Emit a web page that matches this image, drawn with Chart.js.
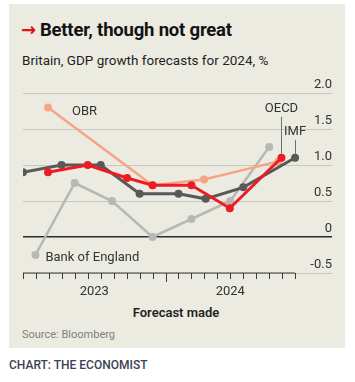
<!DOCTYPE html>
<html>
<head>
<meta charset="utf-8">
<script src="https://cdn.jsdelivr.net/npm/chart.js@4.4.1/dist/chart.umd.min.js"></script>
<style>
  html, body { margin: 0; padding: 0; background: #fff; width: 355px; height: 382px; overflow: hidden; font-family: Roboto, "Liberation Sans", sans-serif; }
  #panel { position: absolute; left: 9px; top: 4px; width: 336px; height: 344px; background: #ECEBE1; }
  .t { position: absolute; white-space: nowrap; }
  #title { left: 21px; top: 18px; font-size: 18.5px; line-height: 23px; font-weight: 700; color: #121212; letter-spacing: -0.2px; }
  #title .arr { color: #E3120B; font-family: "DejaVu Sans", sans-serif; font-weight: 700; font-size: 18px; margin-right: 4px; }
  #subtitle { left: 22px; top: 51px; font-size: 13.5px; line-height: 18px; color: #1f1f1f; }
  #xtitle { left: 0; width: 352px; text-align: center; top: 304px; font-size: 13px; line-height: 18px; font-weight: 600; color: #1f1f1f; }
  #source { left: 22px; top: 327px; font-size: 11px; line-height: 16px; color: #808080; }
  #credit { left: 9px; top: 357px; font-size: 12px; line-height: 16px; font-weight: 500; color: #3b4252; }
  canvas { position: absolute; left: 0; top: 0; }
</style>
</head>
<body>
<div id="panel"></div>
<div class="t" id="title"><span class="arr">→</span>Better, though not great</div>
<div class="t" id="subtitle">Britain, GDP growth forecasts for 2024, %</div>
<div class="t" id="xtitle">Forecast made</div>
<div class="t" id="source">Source: Bloomberg</div>
<div class="t" id="credit">CHART: THE ECONOMIST</div>
<canvas id="c" width="355" height="382"></canvas>
<script>
// x values: months since 1 Jan 2023 (date each forecast was made)
const imfX   = [1.0, 3.97, 7.0, 10.0, 13.0, 15.1, 18.0, 22.0];
const imfY   = [0.9, 1.0, 1.0, 0.6, 0.6, 0.53, 0.69, 1.1];
const oecdX  = [2.93, 6.0, 9.03, 11.0, 14.0, 16.96, 20.95];
const oecdY  = [0.9, 1.0, 0.82, 0.72, 0.72, 0.4, 1.1];
const obrX   = [2.93, 11.0, 14.98, 20.7];
const obrY   = [1.8, 0.72, 0.8, 1.05];
const boeX   = [1.96, 4.99, 7.87, 11.0, 14.0, 17.0, 20.0];
const boeY   = [-0.25, 0.75, 0.5, 0.0, 0.25, 0.5, 1.25];
const seriesNames = ['OECD', 'IMF', 'OBR', 'Bank of England'];
const yTicks = [-0.5, 0, 0.5, 1.0, 1.5, 2.0];
const years = ['2023', '2024'];
const monthFirst = 1, monthLast = 22;

const pts = (xs, ys) => xs.map((x, i) => ({ x: x, y: ys[i] }));

const labelPlugin = {
  id: 'econ',
  afterDatasetsDraw(chart) {
    const ctx = chart.ctx, xs = chart.scales.x, ys = chart.scales.y;
    const y0 = ys.getPixelForValue(yTicks[0]);
    ctx.save();
    // baseline + month ticks
    ctx.strokeStyle = '#3a3a3a';
    ctx.lineWidth = 1.2;
    ctx.beginPath();
    ctx.moveTo(xs.getPixelForValue(monthFirst), y0);
    ctx.lineTo(xs.getPixelForValue(monthLast), y0);
    ctx.stroke();
    for (let m = monthFirst; m <= monthLast; m++) {
      const px = Math.round(xs.getPixelForValue(m)) + 0.5;
      const len = (m % 12 === 0) ? 9 : 6;
      ctx.lineWidth = 1;
      ctx.beginPath();
      ctx.moveTo(px, y0);
      ctx.lineTo(px, y0 + len);
      ctx.stroke();
    }
    // year labels centred in each visible year
    ctx.fillStyle = '#333';
    ctx.font = '13px Roboto';
    ctx.textAlign = 'center';
    ctx.textBaseline = 'middle';
    years.forEach((yr, i) => {
      const a = Math.max(monthFirst, i * 12), b = Math.min(monthLast, (i + 1) * 12);
      ctx.fillText(yr, xs.getPixelForValue((a + b) / 2), y0 + 18.5);
    });
    // series labels
    const p = (ds, idx) => chart.getDatasetMeta(ds).data[idx];
    ctx.textAlign = 'left';
    const obr = p(2, 0);
    ctx.fillText(seriesNames[2], obr.x + 24, obr.y + 4.5);
    const boe = p(3, 0);
    ctx.fillText(seriesNames[3], boe.x + 10, boe.y + 3);
    ctx.textAlign = 'center';
    ctx.strokeStyle = '#6e6e6e';
    ctx.lineWidth = 1;
    const oe = p(0, oecdX.length - 1);
    ctx.fillText(seriesNames[0], oe.x, oe.y - 49);
    ctx.beginPath(); ctx.moveTo(Math.round(oe.x) + 0.5, oe.y - 41); ctx.lineTo(Math.round(oe.x) + 0.5, oe.y - 4); ctx.stroke();
    const im = p(1, imfX.length - 1);
    ctx.fillText(seriesNames[1], im.x, im.y - 26);
    ctx.beginPath(); ctx.moveTo(Math.round(im.x) + 0.5, im.y - 18); ctx.lineTo(Math.round(im.x) + 0.5, im.y - 4); ctx.stroke();
    ctx.restore();
  }
};

const mk = (label, data, color, width, order) => ({
  label, data, borderColor: color, backgroundColor: color,
  pointBackgroundColor: color, pointBorderWidth: 0, pointRadius: 4,
  borderWidth: width, tension: 0, order
});

new Chart(document.getElementById('c'), {
  type: 'line',
  data: {
    datasets: [
      mk(seriesNames[0], pts(oecdX, oecdY), '#EC1B24', 3, 1),
      mk(seriesNames[1], pts(imfX, imfY), '#595959', 3, 2),
      mk(seriesNames[2], pts(obrX, obrY), '#F5A585', 2.5, 3),
      mk(seriesNames[3], pts(boeX, boeY), '#B7B7B5', 2.5, 4)
    ]
  },
  options: {
    responsive: false,
    animation: false,
    devicePixelRatio: 1,
    layout: { padding: { left: 23, right: 23, top: 93, bottom: 109 } },
    plugins: { legend: { display: false }, tooltip: { enabled: false } },
    scales: {
      x: { type: 'linear', display: false, min: monthFirst, max: 24.85 },
      y: {
        position: 'right', min: -0.5, max: 2.0,
        afterBuildTicks: (s) => { s.ticks = yTicks.map(v => ({ value: v })); },
        border: { display: false },
        grid: {
          drawTicks: false,
          color: (c) => c.tick && c.tick.value === 0 ? '#2b2b2b' : '#C9C8BD',
          lineWidth: (c) => c.tick && c.tick.value === 0 ? 1.5 : 1
        },
        ticks: {
          mirror: true, padding: 0, labelOffset: -8.5,
          color: '#333', font: { family: 'Roboto', size: 13 },
          callback: (v) => v === 0 ? '0' : v.toFixed(1)
        },
        afterFit: (s) => { s.width = 0; }
      }
    }
  },
  plugins: [labelPlugin]
});
</script>
</body>
</html>
